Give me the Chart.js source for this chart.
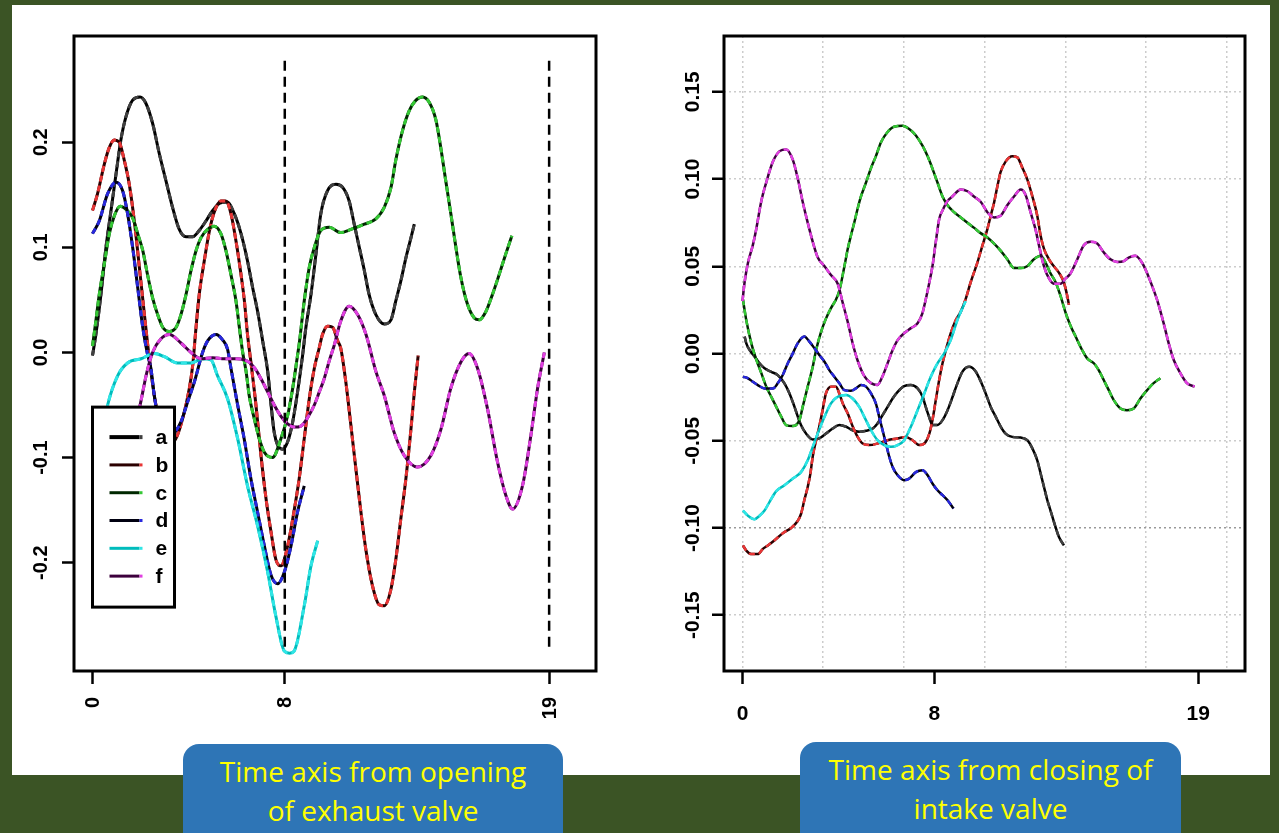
<!DOCTYPE html>
<html>
<head>
<meta charset="utf-8">
<script src="https://cdn.jsdelivr.net/npm/chart.js@4.4.1/dist/chart.umd.min.js"></script>
<style>
  html, body { margin: 0; padding: 0; }
  body { width: 1279px; height: 833px; background: #3b5425; position: relative; overflow: hidden; }
  #sheet { position: absolute; left: 12px; top: 5px; width: 1258px; height: 770px; background: #fff; }
  canvas { position: absolute; top: 0; }
  #exhaust { left: 0; }
  #intake { left: 640px; }
  .tag {
    position: absolute; height: 110px; padding-top: 8px; box-sizing: border-box;
    background: #2e75b6; border-radius: 16px; color: #ffff00;
    font-family: "Open Sans", sans-serif; font-size: 28px; line-height: 39px; text-align: center;
  }
</style>
</head>
<body>
<div id="sheet"></div>
<canvas id="exhaust" width="640" height="740"></canvas>
<canvas id="intake" width="639" height="740"></canvas>
<div class="tag" style="left:183px; top:744px; width:380px;">Time axis from opening<br>of exhaust valve</div>
<div class="tag" style="left:800px; top:742px; width:381px;">Time axis from closing of<br>intake valve</div>

<script>
// shared axis setup
const X_MIN = -0.77, X_MAX = 20.95;
const X_TICKS = [0, 8, 19];
const SERIES_NAMES = ['a', 'b', 'c', 'd', 'e', 'f'];
const BASE_COLORS = ['#000000', '#2a0000', '#002800', '#000010', '#00bcbc', '#3c003c'];
const DASH_COLORS = ['#404040', '#e83535', '#35c835', '#2828dd', '#30e6e6', '#e040e0'];

// left panel: time from exhaust valve opening
const EXH_Y_MIN = -0.303, EXH_Y_MAX = 0.301;
const EXH_Y_TICKS = [-0.2, -0.1, 0, 0.1, 0.2];
const EXH_MARKERS = [8, 19];
const MARKER_SPAN = [-0.28, 0.28];
const KEY_ANCHOR = [0, -0.052];

const exhA = [[0,-0.003],[0.14,0.017],[0.35,0.055],[0.56,0.1],[0.77,0.135],[0.98,0.17],[1.18,0.202],[1.39,0.224],[1.67,0.24],[1.98,0.243],[2.22,0.237],[2.5,0.218],[2.78,0.189],[3.06,0.163],[3.33,0.138],[3.61,0.117],[3.89,0.11],[4.17,0.11],[4.44,0.116],[4.72,0.125],[5.0,0.135],[5.3,0.142],[5.6,0.143],[5.9,0.132],[6.18,0.113],[6.45,0.087],[6.66,0.062],[6.87,0.039],[7.08,0.011],[7.29,-0.018],[7.43,-0.05],[7.56,-0.076],[7.7,-0.088],[7.91,-0.092],[8.12,-0.085],[8.33,-0.066],[8.53,-0.038],[8.74,-0.003],[8.88,0.024],[9.09,0.055],[9.3,0.094],[9.5,0.132],[9.78,0.154],[10.13,0.16],[10.41,0.157],[10.68,0.144],[10.89,0.122],[11.1,0.1],[11.31,0.078],[11.51,0.055],[11.79,0.036],[12.14,0.027],[12.42,0.031],[12.62,0.049],[12.83,0.068],[13.04,0.09],[13.25,0.109],[13.39,0.122]];
const exhB = [[0,0.135],[0.21,0.151],[0.49,0.179],[0.7,0.195],[0.91,0.202],[1.11,0.2],[1.32,0.183],[1.53,0.16],[1.74,0.125],[1.95,0.081],[2.16,0.036],[2.36,-0.005],[2.6,-0.045],[2.9,-0.075],[3.2,-0.088],[3.47,-0.082],[3.75,-0.063],[4.03,-0.034],[4.17,-0.012],[4.3,0.022],[4.44,0.055],[4.65,0.087],[4.86,0.115],[5.06,0.133],[5.34,0.144],[5.55,0.144],[5.76,0.132],[5.97,0.106],[6.18,0.074],[6.32,0.049],[6.45,0.017],[6.59,-0.009],[6.8,-0.05],[7.01,-0.098],[7.22,-0.139],[7.43,-0.171],[7.63,-0.197],[7.84,-0.203],[8.12,-0.184],[8.4,-0.149],[8.6,-0.12],[8.81,-0.082],[9.02,-0.044],[9.23,-0.015],[9.43,0.004],[9.57,0.017],[9.78,0.025],[9.99,0.024],[10.2,0.011],[10.33,0.004],[10.54,-0.028],[10.75,-0.069],[10.96,-0.111],[11.17,-0.152],[11.37,-0.187],[11.65,-0.222],[11.93,-0.24],[12.14,-0.241],[12.42,-0.225],[12.62,-0.197],[12.83,-0.158],[13.04,-0.12],[13.25,-0.073],[13.39,-0.038],[13.55,-0.003]];
const exhC = [[0,0.006],[0.14,0.03],[0.28,0.055],[0.49,0.084],[0.7,0.113],[0.91,0.13],[1.15,0.139],[1.4,0.136],[1.67,0.128],[1.88,0.113],[2.09,0.097],[2.29,0.074],[2.5,0.052],[2.71,0.036],[2.92,0.024],[3.2,0.02],[3.48,0.024],[3.68,0.036],[3.89,0.055],[4.1,0.078],[4.31,0.097],[4.51,0.109],[4.79,0.117],[5.06,0.12],[5.34,0.113],[5.55,0.097],[5.76,0.074],[5.97,0.049],[6.11,0.024],[6.25,0.0],[6.39,-0.018],[6.52,-0.041],[6.73,-0.063],[6.94,-0.082],[7.15,-0.095],[7.49,-0.1],[7.84,-0.082],[8.12,-0.06],[8.33,-0.034],[8.53,-0.003],[8.6,0.008],[8.81,0.049],[9.02,0.081],[9.23,0.1],[9.5,0.116],[9.85,0.119],[10.33,0.114],[10.75,0.117],[11.31,0.122],[11.79,0.127],[12.14,0.138],[12.42,0.157],[12.62,0.183],[12.9,0.211],[13.18,0.23],[13.46,0.24],[13.73,0.243],[14.01,0.238],[14.29,0.221],[14.49,0.195],[14.7,0.163],[14.91,0.132],[15.12,0.1],[15.33,0.071],[15.6,0.046],[15.88,0.033],[16.09,0.031],[16.37,0.039],[16.64,0.055],[16.92,0.074],[17.2,0.094],[17.45,0.111]];
const exhD = [[0,0.113],[0.28,0.125],[0.63,0.151],[0.98,0.162],[1.25,0.154],[1.46,0.132],[1.67,0.1],[1.88,0.062],[2.09,0.024],[2.29,-0.002],[2.43,-0.015],[2.57,-0.041],[2.8,-0.07],[3.05,-0.085],[3.4,-0.077],[3.68,-0.066],[3.96,-0.047],[4.24,-0.028],[4.58,0.0],[4.79,0.011],[5.14,0.017],[5.41,0.012],[5.62,0.003],[5.76,-0.015],[6.04,-0.05],[6.31,-0.082],[6.59,-0.12],[6.87,-0.152],[7.15,-0.184],[7.43,-0.212],[7.7,-0.22],[7.98,-0.209],[8.26,-0.184],[8.53,-0.152],[8.81,-0.127]];
const exhE = [[0,-0.13],[0.3,-0.09],[0.63,-0.05],[1.05,-0.022],[1.46,-0.01],[2.02,-0.006],[2.57,-0.001],[2.99,-0.004],[3.54,-0.01],[4.1,-0.01],[4.58,-0.006],[4.93,-0.007],[5.2,-0.022],[5.62,-0.044],[6.04,-0.082],[6.45,-0.127],[6.87,-0.165],[7.29,-0.209],[7.63,-0.251],[7.98,-0.284],[8.2,-0.286],[8.39,-0.284],[8.81,-0.241],[9.09,-0.203],[9.37,-0.179]];
const exhF = [[0,-0.19],[0.8,-0.15],[1.5,-0.1],[2.0,-0.048],[2.25,-0.02],[2.5,0.0],[2.85,0.013],[3.2,0.017],[3.68,0.009],[4.1,0.0],[4.51,-0.006],[5.0,-0.005],[5.5,-0.006],[6.0,-0.006],[6.5,-0.009],[6.75,-0.015],[7.01,-0.025],[7.3,-0.038],[7.56,-0.05],[7.85,-0.061],[8.12,-0.068],[8.4,-0.071],[8.67,-0.07],[8.95,-0.062],[9.23,-0.05],[9.43,-0.038],[9.64,-0.025],[9.85,-0.008],[10.06,0.007],[10.33,0.03],[10.68,0.044],[11.03,0.036],[11.38,0.017],[11.79,-0.018],[12.14,-0.041],[12.55,-0.076],[12.97,-0.098],[13.52,-0.109],[14.08,-0.098],[14.5,-0.073],[14.91,-0.034],[15.33,-0.009],[15.67,-0.001],[16.02,-0.015],[16.43,-0.053],[16.85,-0.104],[17.2,-0.136],[17.48,-0.149],[17.89,-0.127],[18.24,-0.079],[18.52,-0.034],[18.8,0.0]];

// right panel: time from intake valve closing
const INT_Y_MIN = -0.182, INT_Y_MAX = 0.182;
const INT_Y_TICKS = [-0.15, -0.1, -0.05, 0, 0.05, 0.1, 0.15];
const INT_X_GRID = [0, 3.365, 6.73, 10.095, 13.46, 16.825, 20.19];

const intA = [[0.09,0.0097],[0.16,0.0058],[0.3,0.002],[0.51,-0.0018],[0.71,-0.0056],[0.92,-0.0085],[1.2,-0.0105],[1.47,-0.0124],[1.75,-0.0171],[1.96,-0.0229],[2.17,-0.0306],[2.31,-0.0363],[2.44,-0.041],[2.65,-0.0459],[2.93,-0.0493],[3.2,-0.0487],[3.48,-0.0459],[3.76,-0.043],[4.04,-0.041],[4.32,-0.042],[4.59,-0.044],[4.87,-0.0449],[5.15,-0.0443],[5.43,-0.043],[5.63,-0.0401],[5.84,-0.0353],[6.05,-0.0306],[6.26,-0.0258],[6.47,-0.022],[6.74,-0.0187],[7.02,-0.0181],[7.3,-0.02],[7.51,-0.0248],[7.64,-0.0306],[7.78,-0.0363],[7.92,-0.041],[8.13,-0.041],[8.34,-0.0382],[8.55,-0.0325],[8.76,-0.0248],[8.96,-0.0171],[9.17,-0.0104],[9.45,-0.0076],[9.73,-0.0104],[9.94,-0.0162],[10.14,-0.0229],[10.35,-0.0306],[10.56,-0.0363],[10.77,-0.042],[10.97,-0.0459],[11.25,-0.0478],[11.6,-0.0482],[11.87,-0.0497],[12.09,-0.0545],[12.29,-0.0612],[12.43,-0.0688],[12.57,-0.0765],[12.71,-0.0841],[12.84,-0.0899],[13.05,-0.0994],[13.19,-0.1051],[13.4,-0.11]];
const intB = [[0.02,-0.11],[0.16,-0.113],[0.37,-0.115],[0.64,-0.115],[0.85,-0.112],[1.06,-0.11],[1.34,-0.107],[1.68,-0.103],[2.03,-0.1],[2.3,-0.096],[2.44,-0.092],[2.58,-0.084],[2.72,-0.0765],[2.83,-0.069],[2.93,-0.059],[3.07,-0.0497],[3.2,-0.042],[3.34,-0.0325],[3.48,-0.0229],[3.69,-0.019],[3.9,-0.019],[4.04,-0.023],[4.18,-0.0286],[4.39,-0.0344],[4.6,-0.042],[4.8,-0.0478],[5.01,-0.0516],[5.29,-0.0525],[5.63,-0.0516],[6.05,-0.0497],[6.47,-0.0487],[6.81,-0.0478],[7.09,-0.0497],[7.37,-0.0525],[7.58,-0.0516],[7.79,-0.0459],[7.92,-0.0382],[8.06,-0.0267],[8.2,-0.0152],[8.34,-0.0056],[8.48,0.002],[8.68,0.0115],[8.89,0.019],[9.1,0.024],[9.3,0.031],[9.51,0.0407],[9.79,0.052],[10.0,0.0617],[10.21,0.0713],[10.35,0.079],[10.49,0.0866],[10.63,0.096],[10.76,0.104],[10.97,0.11],[11.25,0.113],[11.46,0.1124],[11.66,0.1067],[11.87,0.1],[12.08,0.0904],[12.29,0.079],[12.43,0.0675],[12.57,0.06],[12.78,0.054],[12.98,0.05],[13.19,0.0464],[13.4,0.0407],[13.54,0.033],[13.61,0.028]];
const intC = [[0.02,0.031],[0.16,0.019],[0.37,0.0058],[0.58,-0.0037],[0.79,-0.0114],[0.99,-0.019],[1.2,-0.0248],[1.41,-0.0306],[1.62,-0.0363],[1.82,-0.041],[2.1,-0.0416],[2.38,-0.038],[2.51,-0.0306],[2.72,-0.019],[2.93,-0.0076],[3.07,0.002],[3.28,0.0125],[3.48,0.02],[3.69,0.026],[3.9,0.031],[4.04,0.036],[4.25,0.05],[4.39,0.06],[4.52,0.0675],[4.66,0.075],[4.8,0.083],[4.94,0.09],[5.15,0.098],[5.35,0.106],[5.56,0.113],[5.77,0.121],[6.05,0.127],[6.32,0.13],[6.67,0.1305],[6.95,0.1287],[7.23,0.125],[7.51,0.119],[7.72,0.113],[7.92,0.106],[8.13,0.098],[8.34,0.09],[8.55,0.085],[8.82,0.081],[9.1,0.078],[9.38,0.075],[9.66,0.072],[9.93,0.069],[10.21,0.0665],[10.49,0.063],[10.76,0.059],[11.04,0.054],[11.32,0.049],[11.6,0.049],[11.87,0.05],[12.15,0.054],[12.43,0.056],[12.64,0.052],[12.84,0.046],[13.05,0.041],[13.26,0.033],[13.47,0.0234],[13.68,0.0158],[13.89,0.0097],[14.16,0.002],[14.37,-0.0028],[14.65,-0.0056],[14.85,-0.0095],[15.06,-0.0152],[15.27,-0.021],[15.48,-0.0267],[15.76,-0.0315],[16.03,-0.0325],[16.31,-0.0315],[16.59,-0.0258],[16.87,-0.021],[17.14,-0.017],[17.42,-0.0142]];
const intD = [[0.02,-0.0133],[0.23,-0.0142],[0.43,-0.0162],[0.64,-0.0181],[0.92,-0.02],[1.27,-0.02],[1.47,-0.0171],[1.68,-0.0123],[1.89,-0.0056],[2.1,0.0001],[2.3,0.0058],[2.58,0.0097],[2.79,0.0068],[3.0,0.003],[3.21,-0.001],[3.42,-0.0047],[3.62,-0.0095],[3.83,-0.0133],[4.04,-0.0171],[4.25,-0.021],[4.52,-0.0214],[4.73,-0.02],[4.94,-0.0181],[5.15,-0.019],[5.36,-0.0229],[5.56,-0.0286],[5.7,-0.0363],[5.84,-0.044],[5.98,-0.0516],[6.12,-0.0592],[6.26,-0.065],[6.47,-0.0698],[6.74,-0.0726],[6.95,-0.0717],[7.23,-0.068],[7.51,-0.0669],[7.72,-0.0698],[7.92,-0.0745],[8.13,-0.0784],[8.34,-0.0812],[8.55,-0.0841],[8.8,-0.0889]];
const intE = [[0.02,-0.09],[0.23,-0.093],[0.5,-0.095],[0.71,-0.093],[0.92,-0.09],[1.13,-0.085],[1.4,-0.079],[1.75,-0.0755],[2.1,-0.0717],[2.44,-0.068],[2.72,-0.0612],[2.93,-0.0535],[3.14,-0.0458],[3.42,-0.0363],[3.69,-0.0286],[3.97,-0.0248],[4.32,-0.0238],[4.59,-0.0258],[4.87,-0.0306],[5.08,-0.0363],[5.36,-0.044],[5.63,-0.0497],[5.91,-0.0525],[6.19,-0.0535],[6.47,-0.0525],[6.74,-0.0497],[7.02,-0.042],[7.3,-0.0325],[7.58,-0.0229],[7.85,-0.0133],[8.13,-0.0056],[8.41,0.0001],[8.68,0.0077],[8.96,0.0192],[9.17,0.026],[9.3,0.03]];
const intF = [[0,0.03],[0.09,0.041],[0.23,0.052],[0.43,0.062],[0.57,0.071],[0.78,0.087],[0.99,0.098],[1.27,0.11],[1.55,0.116],[1.82,0.117],[2.1,0.111],[2.31,0.1],[2.51,0.087],[2.72,0.075],[2.93,0.064],[3.14,0.055],[3.42,0.05],[3.69,0.045],[3.97,0.04],[4.18,0.029],[4.39,0.018],[4.59,0.006],[4.8,-0.004],[5.08,-0.013],[5.36,-0.017],[5.63,-0.018],[5.84,-0.013],[6.05,-0.0056],[6.26,0.002],[6.47,0.0077],[6.74,0.0116],[7.01,0.0144],[7.3,0.0173],[7.5,0.023],[7.64,0.031],[7.78,0.04],[7.92,0.05],[8.06,0.064],[8.2,0.077],[8.34,0.082],[8.55,0.0875],[8.75,0.09],[9.1,0.094],[9.38,0.093],[9.65,0.09],[9.93,0.087],[10.21,0.081],[10.49,0.078],[10.76,0.079],[11.04,0.085],[11.32,0.09],[11.6,0.094],[11.8,0.091],[12.01,0.081],[12.22,0.071],[12.36,0.062],[12.57,0.05],[12.78,0.043],[12.98,0.04],[13.26,0.04],[13.47,0.043],[13.68,0.046],[13.96,0.054],[14.23,0.062],[14.51,0.064],[14.79,0.063],[15.06,0.058],[15.34,0.054],[15.62,0.0525],[15.9,0.053],[16.1,0.055],[16.38,0.056],[16.66,0.052],[16.87,0.046],[17.07,0.039],[17.28,0.031],[17.56,0.0173],[17.77,0.0058],[17.98,-0.0037],[18.26,-0.0114],[18.53,-0.017],[18.85,-0.019]];

// each curve = dark solid line with a bright dashed line over it
function twoTone(points, i, width) {
  const common = {
    pointRadius: 0, borderWidth: width, fill: false,
    cubicInterpolationMode: 'monotone', borderJoinStyle: 'round'
  };
  return [
    { ...common, label: SERIES_NAMES[i], data: points.map(([x, y]) => ({ x, y })),
      borderColor: BASE_COLORS[i], order: 20 - 2 * i },
    { ...common, label: SERIES_NAMES[i] + ' dash', data: points.map(([x, y]) => ({ x, y })),
      borderColor: DASH_COLORS[i], borderDash: [6, 4], order: 19 - 2 * i }
  ];
}

const frame = {
  id: 'frame',
  afterDraw(chart) {
    const { ctx, chartArea: a } = chart;
    ctx.save();
    ctx.lineWidth = 3;
    ctx.strokeStyle = '#000';
    ctx.strokeRect(a.left, a.top, a.right - a.left, a.bottom - a.top);
    ctx.restore();
  }
};

// tick labels, drawn at the scale's tick positions (y labels read upward)
const tickText = {
  id: 'tickText',
  afterDraw(chart, args, o) {
    const { ctx, scales: { x, y } } = chart;
    ctx.save();
    ctx.fillStyle = '#000';
    ctx.font = o.font;
    y.ticks.forEach(t => {
      ctx.save();
      ctx.translate(o.yLabelX, y.getPixelForValue(t.value));
      ctx.rotate(-Math.PI / 2);
      ctx.textAlign = 'center';
      ctx.textBaseline = 'middle';
      ctx.fillText(t.value.toFixed(o.yDigits), 0, 0);
      ctx.restore();
    });
    x.ticks.forEach(t => {
      const px = x.getPixelForValue(t.value);
      ctx.save();
      if (o.xRotate) {
        ctx.translate(px + 1, o.xLabelY);
        ctx.rotate(-Math.PI / 2);
        ctx.textAlign = 'right';
        ctx.textBaseline = 'middle';
      } else {
        ctx.translate(px, o.xLabelY);
        ctx.textAlign = 'center';
        ctx.textBaseline = 'top';
      }
      ctx.fillText(String(t.value), 0, 0);
      ctx.restore();
    });
    ctx.restore();
  }
};

// boxed key in the lower left of the exhaust panel
const keyBox = {
  id: 'keyBox',
  afterDatasetsDraw(chart) {
    const { ctx, scales: { x, y } } = chart;
    const left = x.getPixelForValue(KEY_ANCHOR[0]);
    const top = y.getPixelForValue(KEY_ANCHOR[1]);
    const w = 82, h = 200;
    ctx.save();
    ctx.fillStyle = '#fff';
    ctx.fillRect(left, top, w, h);
    ctx.lineWidth = 3;
    ctx.strokeStyle = '#000';
    ctx.strokeRect(left, top, w, h);
    ctx.font = 'bold 21px "Liberation Sans"';
    ctx.textBaseline = 'middle';
    SERIES_NAMES.forEach((name, i) => {
      const yy = top + 30 + i * 27.8;
      ctx.lineWidth = i === 0 ? 4 : 3;
      ctx.beginPath();
      ctx.strokeStyle = BASE_COLORS[i];
      ctx.moveTo(left + 17, yy); ctx.lineTo(left + 47, yy);
      ctx.stroke();
      ctx.beginPath();
      ctx.strokeStyle = DASH_COLORS[i];
      ctx.moveTo(left + 47, yy); ctx.lineTo(left + 50, yy);
      ctx.stroke();
      ctx.fillStyle = '#000';
      ctx.fillText(name, left + 63, yy + 1);
    });
    ctx.restore();
  }
};

const fixedTicks = list => scale => { scale.ticks = list.map(v => ({ value: v })); };

const exhaustSets = [exhA, exhB, exhC, exhD, exhE, exhF].flatMap((s, i) => twoTone(s, i, 3));
EXH_MARKERS.forEach(xv => exhaustSets.push({
  label: 'marker ' + xv,
  data: [{ x: xv, y: MARKER_SPAN[0] }, { x: xv, y: MARKER_SPAN[1] }],
  borderColor: '#000', borderWidth: 2.5, borderDash: [10, 6], pointRadius: 0, order: 0
}));

new Chart(document.getElementById('exhaust'), {
  type: 'line',
  data: { datasets: exhaustSets },
  options: {
    responsive: false,
    animation: false,
    events: [],
    layout: { padding: { left: 0, right: 44, top: 36, bottom: 0 } },
    plugins: {
      legend: { display: false },
      tooltip: { enabled: false },
      tickText: { font: 'bold 20px "Liberation Sans"', yLabelX: 41, yDigits: 1, xRotate: true, xLabelY: 697 }
    },
    scales: {
      x: {
        type: 'linear', min: X_MIN, max: X_MAX,
        afterBuildTicks: fixedTicks(X_TICKS),
        afterFit: s => { s.height = 69; },
        ticks: { display: false },
        grid: { drawOnChartArea: false, tickLength: 13, tickWidth: 2.5, tickColor: '#000' },
        border: { display: false }
      },
      y: {
        type: 'linear', min: EXH_Y_MIN, max: EXH_Y_MAX,
        afterBuildTicks: fixedTicks(EXH_Y_TICKS),
        afterFit: s => { s.width = 74; },
        ticks: { display: false },
        grid: { drawOnChartArea: false, tickLength: 12, tickWidth: 2.5, tickColor: '#000' },
        border: { display: false }
      }
    }
  },
  plugins: [keyBox, frame, tickText]
});

new Chart(document.getElementById('intake'), {
  type: 'line',
  data: { datasets: [intA, intB, intC, intD, intE, intF].flatMap((s, i) => twoTone(s, i, 2.5)) },
  options: {
    responsive: false,
    animation: false,
    events: [],
    layout: { padding: { left: 0, right: 34, top: 36, bottom: 0 } },
    plugins: {
      legend: { display: false },
      tooltip: { enabled: false },
      tickText: { font: 'bold 21px "Liberation Sans"', yLabelX: 53, yDigits: 2, xRotate: false, xLabelY: 704 }
    },
    scales: {
      x: {
        type: 'linear', min: X_MIN, max: X_MAX,
        afterBuildTicks: fixedTicks(X_TICKS),
        afterFit: s => { s.height = 69; },
        ticks: { display: false },
        grid: { drawOnChartArea: false, tickLength: 13, tickWidth: 2.5, tickColor: '#000' },
        border: { display: false }
      },
      xg: {
        type: 'linear', position: 'bottom', min: X_MIN, max: X_MAX,
        afterBuildTicks: fixedTicks(INT_X_GRID),
        afterFit: s => { s.height = 0; },
        ticks: { display: false },
        grid: { drawTicks: false, color: '#cccccc', lineWidth: 1.5 },
        border: { display: false, dash: [2, 3] }
      },
      y: {
        type: 'linear', min: INT_Y_MIN, max: INT_Y_MAX,
        afterBuildTicks: fixedTicks(INT_Y_TICKS),
        afterFit: s => { s.width = 84; },
        ticks: { display: false },
        grid: {
          color: c => (c.tick && Math.abs(c.tick.value + 0.1) < 1e-9) ? '#999999' : '#cccccc',
          lineWidth: 1.5, tickLength: 12, tickWidth: 2.5, tickColor: '#000'
        },
        border: { display: false, dash: [2, 3] }
      }
    }
  },
  plugins: [frame, tickText]
});
</script>
</body>
</html>
